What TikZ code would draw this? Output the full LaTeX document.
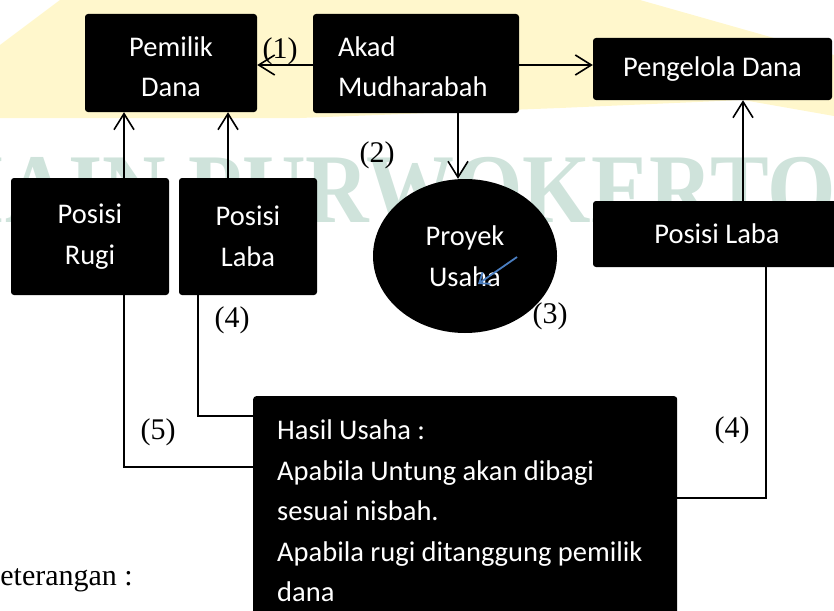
\documentclass[tikz,border=0pt]{standalone}
\usepackage{fontspec}
\setmainfont{Carlito}
\newfontfamily\lblfont{Liberation Serif}
\usetikzlibrary{arrows.meta,shapes.geometric}
\definecolor{wmgreen}{RGB}{207,227,219}
\definecolor{wmyellow}{RGB}{255,247,204}
\definecolor{arrowblue}{RGB}{74,126,193}
\begin{document}
\begin{tikzpicture}[x=1pt,y=-1pt,
  blackbox/.style={fill=black, text=white, rounded corners=3pt, inner sep=0pt,
    font=\fontsize{28.5}{40.5}\selectfont, align=center},
  arr/.style={line width=1.6pt, -{Straight Barb[length=16pt,width=20pt,line width=1.6pt]}},
  conn/.style={line width=1.4pt},
  bluearr/.style={line width=1.8pt, draw=arrowblue, -{Straight Barb[length=9pt,width=14pt,line width=1.8pt]}},
  lbl/.style={font=\lblfont\fontsize{30}{34}\selectfont, inner sep=0pt},
  wmtext/.style={text=wmgreen, inner sep=0pt, font=\lblfont\bfseries\fontsize{88}{88}\selectfont, yscale=1.12}]
\useasboundingbox (0,0) rectangle (834,610);
\clip (0,0) rectangle (834,610);
% background watermark
\fill[wmyellow] (0,45) -- (60,0) -- (640,0) -- (834,55) -- (834,116) -- (743,100) -- (560,108) -- (300,118) -- (0,118) -- cycle;
\node[wmtext, anchor=base east] (wm) at (836,222) {IAIN PURWOKERTO};
% boxes
\node[blackbox, minimum width=172pt, minimum height=98pt] (pemilik) at (171,63) {\rule{0pt}{27pt}Pemilik\\Dana};
\node[blackbox, minimum width=206pt, minimum height=99pt, text width=156pt, align=flush left] (akad) at (416,63.5) {\rule{0pt}{26pt}Akad\\Mudharabah};
\node[blackbox, minimum width=239pt, minimum height=62pt] (pengelola) at (712.5,69) {Pengelola Dana};
\node[blackbox, ellipse, sharp corners, minimum width=184pt, minimum height=154pt] (proyek) at (465,256) {Proyek\\Usaha};
\node[blackbox, minimum width=158pt, minimum height=117pt] (rugi) at (90,236.5) {Posisi\\Rugi};
\node[blackbox, minimum width=138pt, minimum height=117pt] (labaL) at (248,236.5) {Posisi\\Laba};
\node[blackbox, minimum width=248pt, minimum height=66pt] (labaR) at (717,234) {Posisi Laba};
\node[blackbox, anchor=north west, text width=376pt, align=flush left, inner xsep=24pt, inner ysep=24pt] (hasil) at (253,396)
  {Hasil Usaha :\\Apabila Untung akan dibagi\\sesuai nisbah.\\Apabila rugi ditanggung pemilik\\dana};
% arrows
\draw[arr] (akad.west |- 0,65) -- (pemilik.east |- 0,65);
\draw[arr] (akad.east |- 0,65) -- (pengelola.west |- 0,65);
\draw[arr] (akad.south -| 458,0) -- (proyek.north -| 458,0);
\draw[arr] (rugi.north -| 124,0) -- (pemilik.south -| 124,0);
\draw[arr] (labaL.north -| 228,0) -- (pemilik.south -| 228,0);
\draw[arr] (labaR.north -| 743,0) -- (pengelola.south -| 743,0);
% connectors to Hasil Usaha
\draw[conn] (rugi.south -| 124,0) |- (hasil.west |- 0,467);
\draw[conn] (labaL.south -| 198,0) |- (hasil.west |- 0,416);
\draw[conn] (labaR.south -| 766,0) |- (hasil.east |- 0,498);
% blue arrow
\coordinate (ba1) at (517,257);
\coordinate (ba2) at (478,284);
\draw[bluearr] (ba1) -- (ba2);
% labels
\node[lbl] (l1) at (280,51) {(1)};
\node[lbl] (l2) at (377,155) {(2)};
\node[lbl] (l3) at (550,316) {(3)};
\node[lbl] (l4a) at (232,320) {(4)};
\node[lbl] (l5) at (158,432) {(5)};
\node[lbl] (l4b) at (732,430) {(4)};
\node[lbl, anchor=base east] (ket) at (133,585) {Keterangan :};
\end{tikzpicture}
\end{document}
